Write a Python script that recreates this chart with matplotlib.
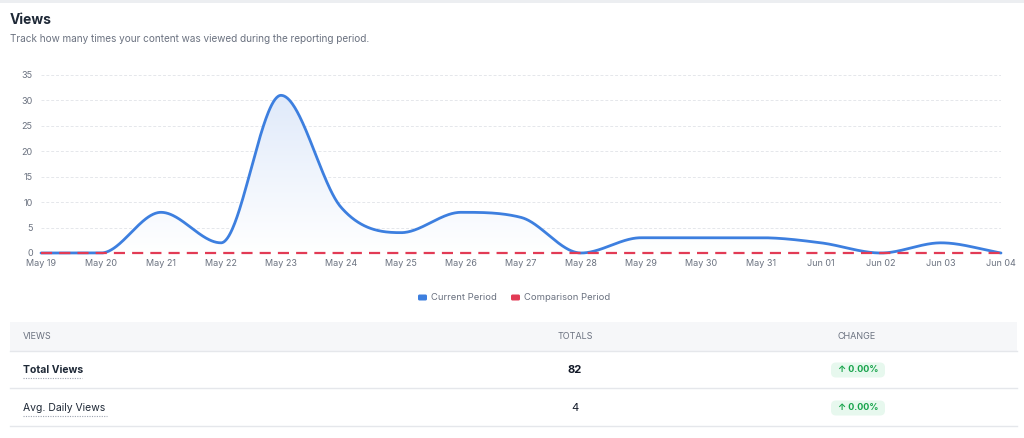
import numpy as np
import matplotlib.pyplot as plt
from matplotlib.patches import FancyBboxPatch, Rectangle

plt.rcParams['font.family'] = ['Inter', 'DejaVu Sans']

# data
dates = ['May 19', 'May 20', 'May 21', 'May 22', 'May 23', 'May 24', 'May 25',
         'May 26', 'May 27', 'May 28', 'May 29', 'May 30', 'May 31', 'Jun 01',
         'Jun 02', 'Jun 03', 'Jun 04']
current = [0, 0, 8, 2, 31, 9, 4, 8, 7, 0, 3, 3, 3, 2, 0, 2, 0]
comparison = [0] * 17
yticks = [0, 5, 10, 15, 20, 25, 30, 35]

row_names = ['Total Views', 'Avg. Daily Views']
row_totals = ['82', '4']
row_change = ['0.00%', '0.00%']

BLUE = '#3d7fdf'
RED = '#e23b55'
W, H = 1024, 438


def monotone(x, y, xs):
    # monotone cubic like chart.js "monotone" mode
    x = np.asarray(x, float); y = np.asarray(y, float)
    n = len(y)
    h = np.diff(x); d = np.diff(y) / h
    m = np.zeros(n)
    m[0] = d[0]; m[-1] = d[-1]
    for k in range(1, n - 1):
        if d[k - 1] * d[k] > 0:
            m[k] = (d[k - 1] + d[k]) / 2
    for k in range(n - 1):
        if d[k] == 0:
            m[k] = 0; m[k + 1] = 0
            continue
        a = m[k] / d[k]; b = m[k + 1] / d[k]
        s = a * a + b * b
        if s > 9:
            tau = 3 / np.sqrt(s)
            m[k] = tau * a * d[k]; m[k + 1] = tau * b * d[k]
    idx = np.clip(np.searchsorted(x, xs) - 1, 0, n - 2)
    t = (xs - x[idx]) / h[idx]
    h00 = 2 * t**3 - 3 * t**2 + 1; h10 = t**3 - 2 * t**2 + t
    h01 = -2 * t**3 + 3 * t**2; h11 = t**3 - t**2
    return h00 * y[idx] + h10 * h[idx] * m[idx] + h01 * y[idx + 1] + h11 * h[idx] * m[idx + 1]


fig = plt.figure(figsize=(W / 100, H / 100), dpi=100)
fig.patch.set_facecolor('white')

# background axes in pixel coordinates for header + table
bg = fig.add_axes([0, 0, 1, 1])
bg.set_xlim(0, W); bg.set_ylim(H, 0); bg.axis('off')
bg.add_patch(Rectangle((0, 0), W, 2.5, color='#eceef1', lw=0))
bg.text(10, 20, 'Views', fontsize=10, fontweight='bold', color='#1f2937', va='center')
bg.text(10, 39, 'Track how many times your content was viewed during the reporting period.',
        fontsize=7.2, color='#6b7280', va='center')

# legend
lx = 418
bg.add_patch(FancyBboxPatch((lx, 294.5), 9, 6, boxstyle='round,pad=0,rounding_size=1.5', color=BLUE, lw=0))
bg.text(lx + 13, 297.5, 'Current Period', fontsize=6.8, color='#6b7280', va='center')
lx2 = 511
bg.add_patch(FancyBboxPatch((lx2, 294.5), 9, 6, boxstyle='round,pad=0,rounding_size=1.5', color=RED, lw=0))
bg.text(lx2 + 13, 297.5, 'Comparison Period', fontsize=6.8, color='#6b7280', va='center')

# table
bg.add_patch(Rectangle((10, 322), 1007, 29, color='#f6f7f9', lw=0))
bg.plot([10, 1017], [351, 351], color='#e5e7eb', lw=1)
bg.text(23, 336.5, 'VIEWS', fontsize=6.5, color='#6b7280', va='center')
bg.text(575, 336.5, 'TOTALS', fontsize=6.5, color='#6b7280', va='center', ha='center')
bg.text(857, 336.5, 'CHANGE', fontsize=6.5, color='#6b7280', va='center', ha='center')
for i, (name, tot, chg) in enumerate(zip(row_names, row_totals, row_change)):
    yc = 370 + i * 38
    bold = 'bold' if i == 0 else 'normal'
    bg.text(23, yc, name, fontsize=7.5, color='#1f2937', va='center', fontweight=bold)
    wname = 59 if i == 0 else 84
    bg.plot([23, 23 + wname], [yc + 8, yc + 8], color='#9ca3af', lw=0.8, ls=(0, (1, 1.2)))
    bg.text(575, yc, tot, fontsize=8, color='#111827', va='center', ha='center', fontweight=bold)
    bg.add_patch(FancyBboxPatch((831, yc - 7.5), 54, 15, boxstyle='round,pad=0,rounding_size=5',
                                color='#e7f8ee', lw=0))
    bg.text(858, yc, '\u2191 ' + chg, fontsize=6.5, color='#16a34a', va='center', ha='center',
            fontweight='bold')
    bg.plot([10, 1017], [yc + 18, yc + 18], color='#e5e7eb', lw=1)

# chart
ax = fig.add_axes([41 / W, (H - 253) / H, 960 / W, 178 / H])
x = np.arange(len(dates))
xs = np.linspace(0, len(dates) - 1, 1200)
ys = monotone(x, current, xs)

ax.set_xlim(0, len(dates) - 1)

# gradient fill under the line
grad = np.linspace(0, 1, 256).reshape(-1, 1)
cmap = plt.matplotlib.colors.LinearSegmentedColormap.from_list('g', ['#ffffff', '#e0eafa'])
im = ax.imshow(grad, extent=[0, len(dates) - 1, 0, 31], origin='lower', aspect='auto',
               cmap=cmap, zorder=1)
poly = ax.fill_between(xs, 0, ys, color='none', lw=0)
im.set_clip_path(poly.get_paths()[0], transform=ax.transData)
ax.set_ylim(0, 35)

ax.plot(xs, ys, color=BLUE, lw=2, zorder=3, solid_capstyle='round', clip_on=False)
ax.plot(x, comparison, color=RED, lw=1.6, ls=(0, (5, 3.2)), zorder=4, clip_on=False)

ax.set_yticks(yticks)
ax.set_xticks(x)
ax.set_xticklabels(dates)
ax.grid(axis='y', color='#e5e7eb', lw=0.7, ls=(0, (3, 2)))
ax.set_axisbelow(True)
for s in ax.spines.values():
    s.set_visible(False)
ax.tick_params(length=0, labelsize=6.5, labelcolor='#6b7280', pad=4)
ax.tick_params(axis='y', pad=6)
ax.set_facecolor('none')

fig.savefig('out.png', dpi=100, facecolor='white')
